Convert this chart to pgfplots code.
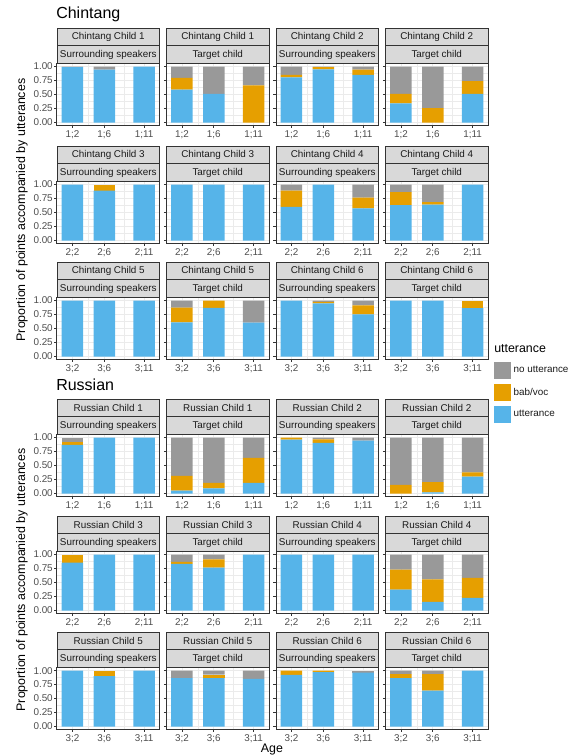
\documentclass[border=0pt]{standalone}
\usepackage{fontspec}
\setmainfont{Liberation Sans}
\usepackage{pgfplots}
\usepackage{pgfplotstable}
\pgfplotsset{compat=1.18}

\definecolor{cblue}{HTML}{56B4E9}
\definecolor{corange}{HTML}{E69F00}
\definecolor{cgrey}{HTML}{999999}
\definecolor{grey85}{HTML}{D9D9D9}
\definecolor{grey92}{HTML}{EBEBEB}
\definecolor{grey20}{HTML}{333333}
\definecolor{grey30}{HTML}{4D4D4D}
\definecolor{grey10}{HTML}{1A1A1A}

\newcommand{\fs}[1]{\fontsize{#1}{#1}\selectfont}

% proportions per child: b = utterance, o = bab/voc, g = no utterance
% x = months after first recording (x;2, x;6, x;11)
\pgfplotstableread{
x b1 o1 g1 b2 o2 g2 b3 o3 g3 b4 o4 g4 b5 o5 g5 b6 o6 g6
0 0.99 0 0.01 0.805 0.045 0.15 1 0 0 0.60 0.29 0.11 1 0 0 1 0 0
4 0.945 0 0.055 0.95 0.04 0.01 0.89 0.11 0 1 0 0 1 0 0 0.95 0.025 0.025
9 1 0 0 0.85 0.095 0.055 1 0 0 0.575 0.19 0.235 1 0 0 0.755 0.16 0.085
}\chsur
\pgfplotstableread{
x b1 o1 g1 b2 o2 g2 b3 o3 g3 b4 o4 g4 b5 o5 g5 b6 o6 g6
0 0.59 0.21 0.20 0.34 0.17 0.49 1 0 0 0.635 0.23 0.135 0.61 0.265 0.125 1 0 0
4 0.51 0 0.49 0 0.255 0.745 1 0 0 0.64 0.045 0.315 0.87 0.13 0 1 0 0
9 0 0.665 0.335 0.51 0.23 0.26 1 0 0 1 0 0 0.605 0 0.395 0.865 0.135 0
}\chtar
\pgfplotstableread{
x b1 o1 g1 b2 o2 g2 b3 o3 g3 b4 o4 g4 b5 o5 g5 b6 o6 g6
0 0.87 0.06 0.07 0.963 0.037 0 0.855 0.145 0 1 0 0 1 0 0 0.925 0.075 0
4 1 0 0 0.907 0.063 0.03 1 0 0 1 0 0 0.90 0.10 0 0.975 0.025 0
9 1 0 0 0.944 0 0.056 1 0 0 1 0 0 1 0 0 0.963 0 0.037
}\rusur
\pgfplotstableread{
x b1 o1 g1 b2 o2 g2 b3 o3 g3 b4 o4 g4 b5 o5 g5 b6 o6 g6
0 0.05 0.265 0.685 0 0.154 0.846 0.834 0.036 0.13 0.374 0.356 0.27 0.864 0 0.136 0.864 0.074 0.062
4 0.093 0.097 0.81 0.02 0.184 0.796 0.767 0.147 0.086 0.153 0.405 0.442 0.864 0.062 0.074 0.642 0.296 0.062
9 0.19 0.446 0.364 0.30 0.077 0.623 1 0 0 0.227 0.356 0.417 0.85 0 0.15 1 0 0
}\rutar

\pgfplotsset{
  sqleg/.style={legend image code/.code={\fill[##1] (0pt,-6.4pt) rectangle (12.8pt,6.4pt);}},
  panel/.style={
    scale only axis, width=76.875pt, height=46.125pt, anchor=north west,
    xmin=-1.935, xmax=10.935, ymin=-0.05, ymax=1.05,
    xtick={0,4,9}, minor xtick={2,6.5},
    ytick={0,0.25,0.5,0.75,1}, yticklabels={0.00,0.25,0.50,0.75,1.00},
    minor ytick={0.125,0.375,0.625,0.875},
    xtick pos=bottom, ytick pos=left,
    grid=both,
    major grid style={grey92, line width=0.55pt},
    minor grid style={grey92, line width=0.3pt},
    axis line style={grey20, line width=0.75pt},
    tick align=outside, major tick length=2pt, minor tick length=0pt,
    tick style={grey20, line width=0.5pt},
    tick label style={font=\fs{7.4}, text=grey30},
    yticklabel style={inner sep=1pt},
    xticklabel style={inner sep=1.5pt},
    ybar stacked, bar width=2.7,
    every axis plot/.append style={draw=none},
    every axis plot post/.append style={sqleg},
  },
  col0/.style={}, col1/.style={yticklabels={}},
  col2/.style={yticklabels={}}, col3/.style={yticklabels={}},
}

% #1 column, #2 top of strips (px), #3 language, #4 child, #5 role, #6 table, #7 age year, #8 extra
\newcommand{\panel}[8]{%
  \pgfmathsetmacro{\L}{57+109.5*#1}%
  \begin{axis}[panel, col#1,
    at={({(57+109.5*#1)*0.75pt},{-(#2+35.5)*0.75pt})},
    xticklabels={{#7;2},{#7;6},{#7;11}}, #8]
    \addplot[fill=cblue] table[x=x, y=b#4] {#6};
    \addplot[fill=corange] table[x=x, y=o#4] {#6};
    \addplot[fill=cgrey] table[x=x, y=g#4] {#6};
  \end{axis}
  \begin{scope}[x=0.75pt, y=-0.75pt]
    \filldraw[fill=grey85, draw=grey20, line width=0.75pt] (\L,#2) rectangle ++(102.5,17.5);
    \filldraw[fill=grey85, draw=grey20, line width=0.75pt] (\L,#2+17.5) rectangle ++(102.5,18);
    \node[font=\fs{7.4}, text=grey10] at (\L+51.25,#2+8.9) {#3 Child #4};
    \node[font=\fs{7.4}, text=grey10] at (\L+51.25,#2+26.6) {#5};
  \end{scope}
}

\begin{document}
\begin{tikzpicture}
% Chintang
\panel{0}{28.3}{Chintang}{1}{Surrounding speakers}{\chsur}{1}{}
\panel{1}{28.3}{Chintang}{1}{Target child}{\chtar}{1}{}
\panel{2}{28.3}{Chintang}{2}{Surrounding speakers}{\chsur}{1}{}
\panel{3}{28.3}{Chintang}{2}{Target child}{\chtar}{1}{}
\panel{0}{146.3}{Chintang}{3}{Surrounding speakers}{\chsur}{2}{}
\panel{1}{146.3}{Chintang}{3}{Target child}{\chtar}{2}{}
\panel{2}{146.3}{Chintang}{4}{Surrounding speakers}{\chsur}{2}{}
\panel{3}{146.3}{Chintang}{4}{Target child}{\chtar}{2}{}
\panel{0}{262.3}{Chintang}{5}{Surrounding speakers}{\chsur}{3}{}
\panel{1}{262.3}{Chintang}{5}{Target child}{\chtar}{3}{}
\panel{2}{262.3}{Chintang}{6}{Surrounding speakers}{\chsur}{3}{}
\panel{3}{262.3}{Chintang}{6}{Target child}{\chtar}{3}{
  legend entries={utterance,bab/voc,no utterance}, reverse legend,
  legend cell align=left,
  legend style={at={(1.055,-0.04)}, anchor=north west, draw=none, fill=none,
    font=\fs{7.4}, text=grey10, row sep=3.6pt, inner sep=0pt,
    nodes={inner sep=2pt}}}
% Russian
\panel{0}{399.3}{Russian}{1}{Surrounding speakers}{\rusur}{1}{}
\panel{1}{399.3}{Russian}{1}{Target child}{\rutar}{1}{}
\panel{2}{399.3}{Russian}{2}{Surrounding speakers}{\rusur}{1}{}
\panel{3}{399.3}{Russian}{2}{Target child}{\rutar}{1}{}
\panel{0}{516.3}{Russian}{3}{Surrounding speakers}{\rusur}{2}{}
\panel{1}{516.3}{Russian}{3}{Target child}{\rutar}{2}{}
\panel{2}{516.3}{Russian}{4}{Surrounding speakers}{\rusur}{2}{}
\panel{3}{516.3}{Russian}{4}{Target child}{\rutar}{2}{}
\panel{0}{632.3}{Russian}{5}{Surrounding speakers}{\rusur}{3}{}
\panel{1}{632.3}{Russian}{5}{Target child}{\rutar}{3}{}
\panel{2}{632.3}{Russian}{6}{Surrounding speakers}{\rusur}{3}{}
\panel{3}{632.3}{Russian}{6}{Target child}{\rutar}{3}{}

\begin{scope}[x=0.75pt, y=-0.75pt]
  \node[anchor=west, font=\fs{12}, inner sep=0pt] at (56,14) {Chintang};
  \node[anchor=west, font=\fs{12}, inner sep=0pt] at (56,385) {Russian};
  \node[rotate=90, font=\fs{9.3}, text=black] at (22,210) {Proportion of points accompanied by utterances};
  \node[rotate=90, font=\fs{9.3}, text=black] at (22,580) {Proportion of points accompanied by utterances};
  \node[font=\fs{9.3}] at (272,749.5) {Age};
  \node[anchor=west, font=\fs{9.3}, inner sep=0pt] at (494,349) {utterance};
\end{scope}
\pgfresetboundingbox
\path[use as bounding box] (0,0) rectangle (432.75pt,-567pt);
\end{tikzpicture}
\end{document}
